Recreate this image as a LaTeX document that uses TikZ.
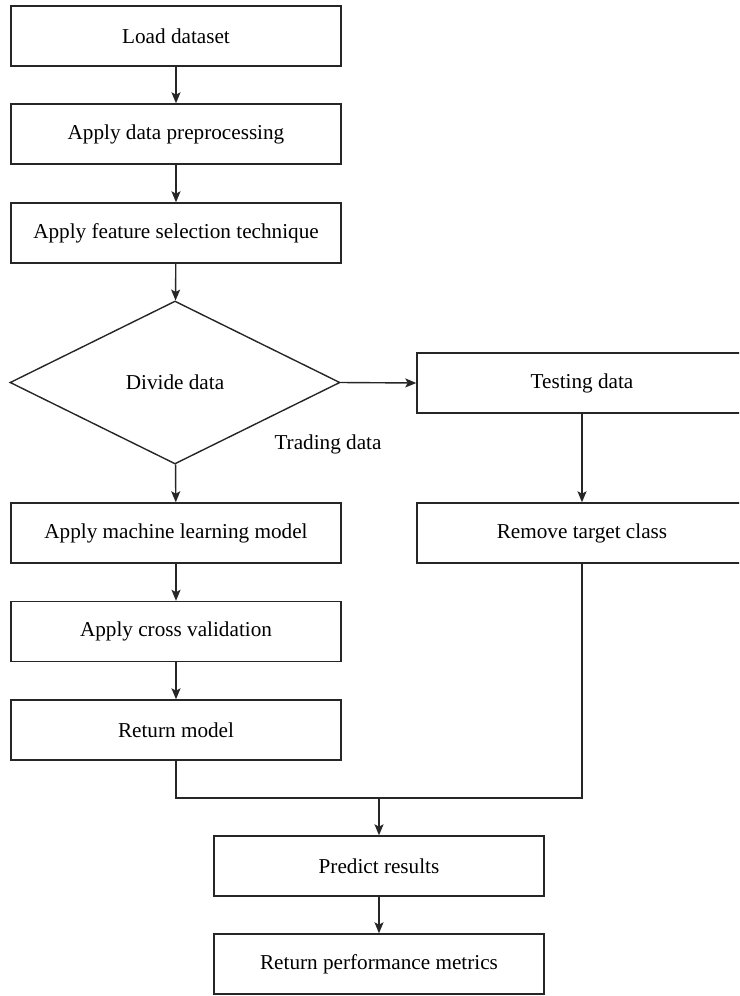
\documentclass[tikz,border=0pt]{standalone}
\usepackage{fontspec}
\setmainfont{Liberation Serif}
\usetikzlibrary{shapes.geometric,arrows.meta}
\begin{document}
\begin{tikzpicture}[x=0.5pt,y=-0.5pt,
    line width=0.7pt,draw=black!85,
    font=\fontsize{10.6}{12.7}\selectfont,
    stepbox/.style={draw,rectangle,minimum width=165pt,minimum height=30pt,inner sep=0pt},
    decide/.style={draw,diamond,minimum width=165pt,minimum height=81.5pt,inner sep=0pt},
    flow/.style={-{Stealth[length=5.5pt,width=4.5pt,inset=1.2pt]}}]
\clip (0,0) rectangle (739,996);
\node[stepbox] (load) at (176,36) {Load dataset};
\node[stepbox] (prep) at (176,134) {Apply data preprocessing};
\node[stepbox] (feat) at (176,233) {Apply feature selection technique};
\node[decide] (div) at (175,382.5) {Divide data};
\node[stepbox] (test) at (582,383) {Testing data};
\node (trd) at (328,444) {Trading data};
\node[stepbox] (ml) at (176,533) {Apply machine learning model};
\node[stepbox] (remove) at (582,533) {Remove target class};
\node[stepbox] (cv) at (176,631.5) {Apply cross validation};
\node[stepbox] (rm) at (176,730) {Return model};
\node[stepbox] (pred) at (379,866) {Predict results};
\node[stepbox] (perf) at (379,964) {Return performance metrics};
\coordinate (jn) at (379,798);
\draw[flow] (load) -- (prep);
\draw[flow] (prep) -- (feat);
\draw[flow] (feat) -- (div);
\draw[flow] (div.east) -- (test.west);
\draw[flow] (test) -- (remove);
\draw[flow] (div) -- (ml);
\draw[flow] (ml) -- (cv);
\draw[flow] (cv) -- (rm);
\draw (rm.south) |- (jn) -| (remove.south);
\draw[flow] (jn) -- (pred);
\draw[flow] (pred) -- (perf);
\end{tikzpicture}
\end{document}
